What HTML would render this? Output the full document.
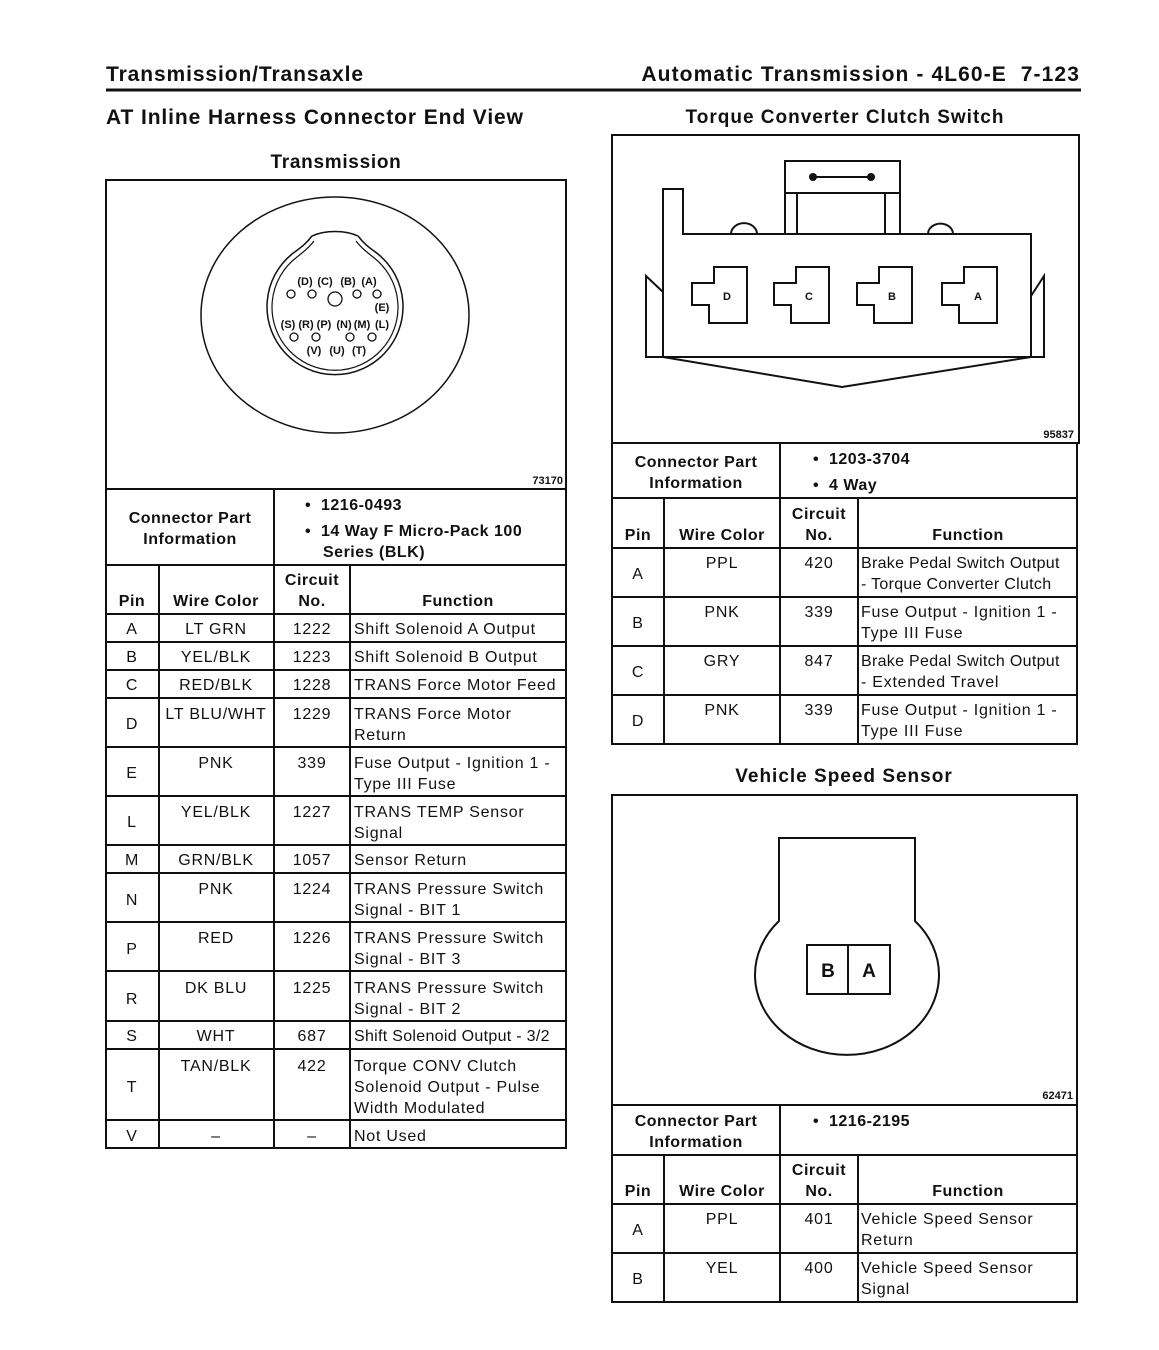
<!DOCTYPE html>
<html><head><meta charset="utf-8"><style>
html,body{margin:0;padding:0;background:#fff}
svg{display:block}
text{font-family:"Liberation Sans",Arial,sans-serif;fill:#111}
.t{font-size:16px;letter-spacing:0.75px}
.t .b{letter-spacing:0.5px}
.b{font-weight:bold}
.c{text-anchor:middle}
.h{letter-spacing:0.9px}
.s{letter-spacing:1px}
</style></head><body>
<svg width="1159" height="1350" viewBox="0 0 1159 1350" xmlns="http://www.w3.org/2000/svg">
<g stroke="#111" fill="none" stroke-width="2">
<line x1="106" y1="90" x2="1081" y2="90" stroke-width="3"/>
<rect x="106" y="180" width="460" height="968"/>
<line x1="106" y1="489" x2="566" y2="489"/>
<line x1="274" y1="489" x2="274" y2="565"/>
<line x1="106" y1="565" x2="566" y2="565"/>
<line x1="106" y1="614" x2="566" y2="614"/>
<line x1="159" y1="565" x2="159" y2="1148"/>
<line x1="274" y1="565" x2="274" y2="1148"/>
<line x1="350" y1="565" x2="350" y2="1148"/>
<line x1="106" y1="642" x2="566" y2="642"/>
<line x1="106" y1="670" x2="566" y2="670"/>
<line x1="106" y1="698" x2="566" y2="698"/>
<line x1="106" y1="747" x2="566" y2="747"/>
<line x1="106" y1="796" x2="566" y2="796"/>
<line x1="106" y1="845" x2="566" y2="845"/>
<line x1="106" y1="873" x2="566" y2="873"/>
<line x1="106" y1="922" x2="566" y2="922"/>
<line x1="106" y1="971" x2="566" y2="971"/>
<line x1="106" y1="1021" x2="566" y2="1021"/>
<line x1="106" y1="1049" x2="566" y2="1049"/>
<line x1="106" y1="1120" x2="566" y2="1120"/>
<ellipse cx="335" cy="315" rx="134" ry="118" stroke-width="1.5"/>
<path d="M312,236 C305,245 300,248 292,254 A68,68 0 1 0 378,254 C370,248 365,245 358,236 C345,230 325,230 312,236 Z" stroke-width="1.5"/>
<path d="M314,241 C308,249 303,252 297,257 A63,63 0 1 0 373,257 C367,252 362,249 356,241" stroke-width="1.2"/>
<g stroke-width="1.3">
<circle cx="291" cy="294" r="4"/><circle cx="312" cy="294" r="4"/><circle cx="335" cy="299" r="7"/><circle cx="357" cy="294" r="4"/><circle cx="377" cy="294" r="4"/>
<circle cx="294" cy="337" r="4"/><circle cx="316" cy="337" r="4"/><circle cx="350" cy="337" r="4"/><circle cx="372" cy="337" r="4"/>
</g>
<rect x="612" y="135" width="467" height="308"/>
<line x1="612" y1="443" x2="1077" y2="443"/>
<line x1="780" y1="443" x2="780" y2="498"/>
<rect x="612" y="443" width="465" height="301"/>
<line x1="612" y1="498" x2="1077" y2="498"/>
<line x1="612" y1="548" x2="1077" y2="548"/>
<line x1="612" y1="597" x2="1077" y2="597"/>
<line x1="612" y1="646" x2="1077" y2="646"/>
<line x1="612" y1="695" x2="1077" y2="695"/>
<line x1="664" y1="498" x2="664" y2="744"/>
<line x1="780" y1="498" x2="780" y2="744"/>
<line x1="858" y1="498" x2="858" y2="744"/>
<rect x="785" y="161" width="115" height="73"/>
<line x1="785" y1="193" x2="900" y2="193"/>
<line x1="797" y1="193" x2="797" y2="234"/>
<line x1="885" y1="193" x2="885" y2="234"/>
<line x1="813" y1="177" x2="871" y2="177"/>
<path d="M663,357 L663,189 L683,189 L683,234 L1031,234 L1031,357 Z"/>
<path d="M731,234 A12,10 0 0 1 757,234"/>
<path d="M928,234 A12,10 0 0 1 953,234"/>
<path d="M663,357 L646,357 L646,276 L663,292"/>
<path d="M1031,357 L1044,357 L1044,276 L1031,296"/>
<path d="M663,357 L842,387 L1031,357"/>
<g id="cav"><path d="M714,267 L747,267 L747,323 L709,323 L709,305 L692,305 L692,283 L714,283 Z"/></g>
<use href="#cav" x="82"/>
<use href="#cav" x="165"/>
<use href="#cav" x="250"/>
<rect x="612" y="795" width="465" height="310"/>
<rect x="612" y="1105" width="465" height="197"/>
<line x1="780" y1="1105" x2="780" y2="1155"/>
<line x1="612" y1="1155" x2="1077" y2="1155"/>
<line x1="612" y1="1204" x2="1077" y2="1204"/>
<line x1="612" y1="1253" x2="1077" y2="1253"/>
<line x1="664" y1="1155" x2="664" y2="1302"/>
<line x1="780" y1="1155" x2="780" y2="1302"/>
<line x1="858" y1="1155" x2="858" y2="1302"/>
<path d="M779,921 L779,838 L915,838 L915,921 A92,80 0 1 1 779,921 Z"/>
<rect x="807" y="945" width="83" height="49"/>
<line x1="848" y1="945" x2="848" y2="994"/>
</g>
<g fill="#111">
<circle cx="813" cy="177" r="4"/><circle cx="871" cy="177" r="4"/>
</g>

<text x="106" y="81" class="b h" font-size="21">Transmission/Transaxle</text>
<text x="1080" y="81" class="b" font-size="21" text-anchor="end" letter-spacing="1.1">Automatic Transmission - 4L60-E &#160;7-123</text>
<text x="106" y="124" class="b h" font-size="21">AT Inline Harness Connector End View</text>
<text x="336" y="168" class="b c" font-size="19" letter-spacing="0.7">Transmission</text>
<text x="845" y="123" class="b c s" font-size="19">Torque Converter Clutch Switch</text>
<text x="844" y="782" class="b c s" font-size="19">Vehicle Speed Sensor</text>

<g font-size="11" class="b c">
<text x="305" y="285" class="c">(D)</text><text x="325" y="285" class="c">(C)</text><text x="348" y="285" class="c">(B)</text><text x="369" y="285" class="c">(A)</text>
<text x="382" y="311" class="c">(E)</text>
<text x="288" y="328" class="c">(S)</text><text x="306" y="328" class="c">(R)</text><text x="324" y="328" class="c">(P)</text><text x="344" y="328" class="c">(N)</text><text x="362" y="328" class="c">(M)</text><text x="382" y="328" class="c">(L)</text>
<text x="314" y="354" class="c">(V)</text><text x="337" y="354" class="c">(U)</text><text x="359" y="354" class="c">(T)</text>
</g>
<text x="563" y="484" font-size="11" text-anchor="end" class="b">73170</text>
<text x="1074" y="438" font-size="11" text-anchor="end" class="b">95837</text>
<text x="1073" y="1099" font-size="11" text-anchor="end" class="b">62471</text>
<text x="727" y="300" font-size="11" class="b c">D</text>
<text x="809" y="300" font-size="11" class="b c">C</text>
<text x="892" y="300" font-size="11" class="b c">B</text>
<text x="978" y="300" font-size="11" class="b c">A</text>
<text x="828" y="977" font-size="19" class="b c">B</text>
<text x="869" y="977" font-size="19" class="b c">A</text>

<g class="t">
<text x="190" y="523" class="b c">Connector Part</text>
<text x="190" y="544" class="b c">Information</text>
<text x="305" y="510" class="b">•&#160; 1216-0493</text>
<text x="305" y="536" class="b">•&#160; 14 Way F Micro-Pack 100</text>
<text x="323" y="557" class="b">Series (BLK)</text>
<text x="132" y="606" class="b c">Pin</text>
<text x="216" y="606" class="b c">Wire Color</text>
<text x="312" y="585" class="b c">Circuit</text>
<text x="312" y="606" class="b c">No.</text>
<text x="458" y="606" class="b c">Function</text>

<text x="132" y="634" class="c">A</text><text x="216" y="634" class="c">LT GRN</text><text x="312" y="634" class="c">1222</text><text x="354" y="634">Shift Solenoid A Output</text>
<text x="132" y="662" class="c">B</text><text x="216" y="662" class="c">YEL/BLK</text><text x="312" y="662" class="c">1223</text><text x="354" y="662">Shift Solenoid B Output</text>
<text x="132" y="690" class="c">C</text><text x="216" y="690" class="c">RED/BLK</text><text x="312" y="690" class="c">1228</text><text x="354" y="690">TRANS Force Motor Feed</text>
<text x="132" y="729" class="c">D</text><text x="216" y="719" class="c">LT BLU/WHT</text><text x="312" y="719" class="c">1229</text><text x="354" y="719">TRANS Force Motor</text><text x="354" y="740">Return</text>
<text x="132" y="778" class="c">E</text><text x="216" y="768" class="c">PNK</text><text x="312" y="768" class="c">339</text><text x="354" y="768">Fuse Output - Ignition 1 -</text><text x="354" y="789">Type III Fuse</text>
<text x="132" y="827" class="c">L</text><text x="216" y="817" class="c">YEL/BLK</text><text x="312" y="817" class="c">1227</text><text x="354" y="817">TRANS TEMP Sensor</text><text x="354" y="838">Signal</text>
<text x="132" y="865" class="c">M</text><text x="216" y="865" class="c">GRN/BLK</text><text x="312" y="865" class="c">1057</text><text x="354" y="865">Sensor Return</text>
<text x="132" y="905" class="c">N</text><text x="216" y="894" class="c">PNK</text><text x="312" y="894" class="c">1224</text><text x="354" y="894">TRANS Pressure Switch</text><text x="354" y="915">Signal - BIT 1</text>
<text x="132" y="954" class="c">P</text><text x="216" y="943" class="c">RED</text><text x="312" y="943" class="c">1226</text><text x="354" y="943">TRANS Pressure Switch</text><text x="354" y="964">Signal - BIT 3</text>
<text x="132" y="1004" class="c">R</text><text x="216" y="993" class="c">DK BLU</text><text x="312" y="993" class="c">1225</text><text x="354" y="993">TRANS Pressure Switch</text><text x="354" y="1014">Signal - BIT 2</text>
<text x="132" y="1041" class="c">S</text><text x="216" y="1041" class="c">WHT</text><text x="312" y="1041" class="c">687</text><text x="354" y="1041" letter-spacing="0.3">Shift Solenoid Output - 3/2</text>
<text x="132" y="1092" class="c">T</text><text x="216" y="1071" class="c">TAN/BLK</text><text x="312" y="1071" class="c">422</text><text x="354" y="1071">Torque CONV Clutch</text><text x="354" y="1092">Solenoid Output - Pulse</text><text x="354" y="1113">Width Modulated</text>
<text x="132" y="1141" class="c">V</text><text x="216" y="1141" class="c">–</text><text x="312" y="1141" class="c">–</text><text x="354" y="1141">Not Used</text>

<text x="696" y="467" class="b c">Connector Part</text>
<text x="696" y="488" class="b c">Information</text>
<text x="813" y="464" class="b">•&#160; 1203-3704</text>
<text x="813" y="490" class="b">•&#160; 4 Way</text>
<text x="638" y="540" class="b c">Pin</text>
<text x="722" y="540" class="b c">Wire Color</text>
<text x="819" y="519" class="b c">Circuit</text>
<text x="819" y="540" class="b c">No.</text>
<text x="968" y="540" class="b c">Function</text>
<text x="638" y="579" class="c">A</text><text x="722" y="568" class="c">PPL</text><text x="819" y="568" class="c">420</text><text x="861" y="568" letter-spacing="0.3">Brake Pedal Switch Output</text><text x="861" y="589" letter-spacing="0.3">- Torque Converter Clutch</text>
<text x="638" y="628" class="c">B</text><text x="722" y="617" class="c">PNK</text><text x="819" y="617" class="c">339</text><text x="861" y="617">Fuse Output - Ignition 1 -</text><text x="861" y="638">Type III Fuse</text>
<text x="638" y="677" class="c">C</text><text x="722" y="666" class="c">GRY</text><text x="819" y="666" class="c">847</text><text x="861" y="666" letter-spacing="0.3">Brake Pedal Switch Output</text><text x="861" y="687">- Extended Travel</text>
<text x="638" y="726" class="c">D</text><text x="722" y="715" class="c">PNK</text><text x="819" y="715" class="c">339</text><text x="861" y="715">Fuse Output - Ignition 1 -</text><text x="861" y="736">Type III Fuse</text>

<text x="696" y="1126" class="b c">Connector Part</text>
<text x="696" y="1147" class="b c">Information</text>
<text x="813" y="1126" class="b">•&#160; 1216-2195</text>
<text x="638" y="1196" class="b c">Pin</text>
<text x="722" y="1196" class="b c">Wire Color</text>
<text x="819" y="1175" class="b c">Circuit</text>
<text x="819" y="1196" class="b c">No.</text>
<text x="968" y="1196" class="b c">Function</text>
<text x="638" y="1235" class="c">A</text><text x="722" y="1224" class="c">PPL</text><text x="819" y="1224" class="c">401</text><text x="861" y="1224">Vehicle Speed Sensor</text><text x="861" y="1245">Return</text>
<text x="638" y="1284" class="c">B</text><text x="722" y="1273" class="c">YEL</text><text x="819" y="1273" class="c">400</text><text x="861" y="1273">Vehicle Speed Sensor</text><text x="861" y="1294">Signal</text>
</g>
</svg>
</body></html>
